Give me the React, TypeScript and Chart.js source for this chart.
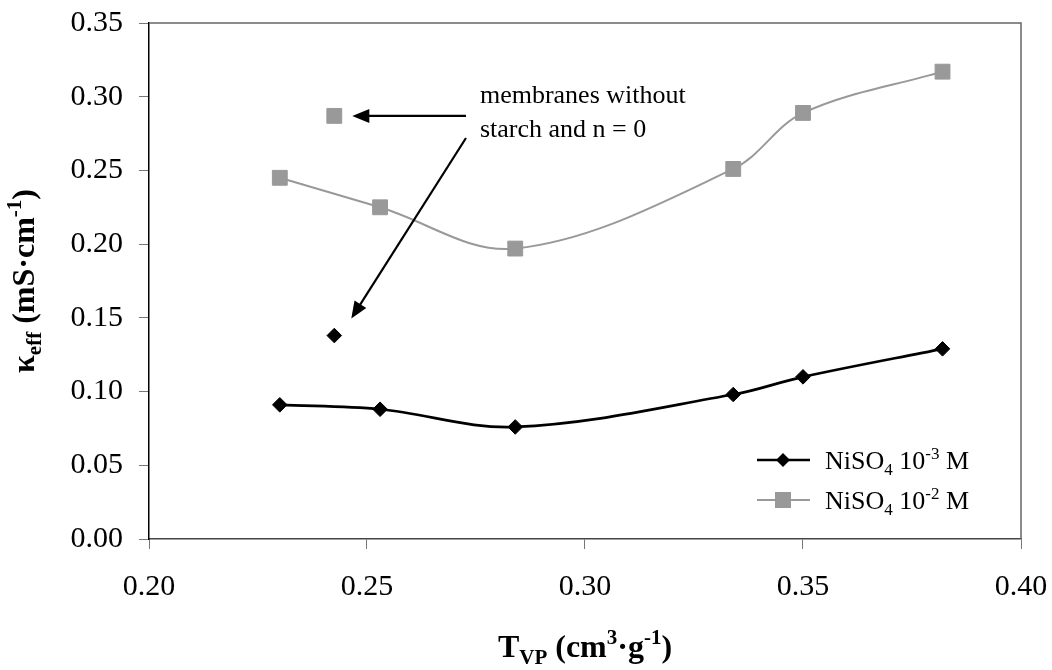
import React, { useEffect, useRef } from 'react';
import { Chart, registerables } from 'chart.js';

Chart.register(...registerables);

// ---- data ----
const tvp = [0.23, 0.253, 0.284, 0.334, 0.35, 0.382];
const kappaNi3 = [0.091, 0.088, 0.076, 0.098, 0.11, 0.129];
const kappaNi2 = [0.245, 0.225, 0.197, 0.251, 0.289, 0.317];
const noStarchTvp = [0.2425];
const noStarchNi3 = [0.138];
const noStarchNi2 = [0.287];
const xTickValues = [0.2, 0.25, 0.3, 0.35, 0.4];
const yTickValues = [0, 0.05, 0.1, 0.15, 0.2, 0.25, 0.3, 0.35];
const noteLines = ['membranes without', 'starch and n = 0'];

type Part = { t: string; k?: 'sub' | 'sup' };
const legendNi3: Part[] = [{ t: 'NiSO' }, { t: '4', k: 'sub' }, { t: ' 10' }, { t: '-3', k: 'sup' }, { t: ' M' }];
const legendNi2: Part[] = [{ t: 'NiSO' }, { t: '4', k: 'sub' }, { t: ' 10' }, { t: '-2', k: 'sup' }, { t: ' M' }];
const xTitle: Part[] = [{ t: 'T' }, { t: 'VP', k: 'sub' }, { t: ' (cm' }, { t: '3', k: 'sup' }, { t: '·g' }, { t: '-1', k: 'sup' }, { t: ')' }];
const yTitle: Part[] = [{ t: 'κ' }, { t: 'eff', k: 'sub' }, { t: ' (mS·cm' }, { t: '-1', k: 'sup' }, { t: ')' }];

const FONT = '"Liberation Serif", "Times New Roman", serif';
const BLACK = '#000000';
const GRAY = '#999999';

function fontFor(size: number, weight: string, small: boolean) {
  const s = small ? Math.round(size * 0.65) : size;
  return `${weight} ${s}px ${FONT}`;
}

function richWidth(ctx: CanvasRenderingContext2D, parts: Part[], size: number, weight: string) {
  let w = 0;
  for (const p of parts) {
    ctx.font = fontFor(size, weight, !!p.k);
    w += ctx.measureText(p.t).width;
  }
  return w;
}

function drawRich(
  ctx: CanvasRenderingContext2D,
  parts: Part[],
  x: number,
  y: number,
  size: number,
  weight: string,
  align: 'left' | 'center'
) {
  const w = richWidth(ctx, parts, size, weight);
  let cx = align === 'center' ? x - w / 2 : x;
  ctx.textBaseline = 'alphabetic';
  ctx.textAlign = 'left';
  for (const p of parts) {
    ctx.font = fontFor(size, weight, !!p.k);
    const dy = p.k === 'sub' ? size * 0.22 : p.k === 'sup' ? -size * 0.4 : 0;
    ctx.fillText(p.t, cx, y + dy);
    cx += ctx.measureText(p.t).width;
  }
}

function arrow(ctx: CanvasRenderingContext2D, x0: number, y0: number, x1: number, y1: number) {
  const ang = Math.atan2(y1 - y0, x1 - x0);
  const hl = 17;
  const hw = 7;
  const bx = x1 - Math.cos(ang) * hl;
  const by = y1 - Math.sin(ang) * hl;
  ctx.beginPath();
  ctx.moveTo(x0, y0);
  ctx.lineTo(bx + Math.cos(ang) * 2, by + Math.sin(ang) * 2);
  ctx.lineWidth = 2.2;
  ctx.strokeStyle = BLACK;
  ctx.stroke();
  ctx.beginPath();
  ctx.moveTo(x1, y1);
  ctx.lineTo(bx + Math.cos(ang + Math.PI / 2) * hw, by + Math.sin(ang + Math.PI / 2) * hw);
  ctx.lineTo(bx - Math.cos(ang + Math.PI / 2) * hw, by - Math.sin(ang + Math.PI / 2) * hw);
  ctx.closePath();
  ctx.fillStyle = BLACK;
  ctx.fill();
}

const decorPlugin = {
  id: 'decor',
  afterDraw(chart: any) {
    const ctx: CanvasRenderingContext2D = chart.ctx;
    const { left, right, top, bottom } = chart.chartArea;
    const xs = chart.scales.x;
    const ys = chart.scales.y;
    ctx.save();

    // frame: top & right
    ctx.strokeStyle = '#666666';
    ctx.lineWidth = 1.5;
    ctx.beginPath();
    ctx.moveTo(left, top);
    ctx.lineTo(right, top);
    ctx.lineTo(right, bottom);
    ctx.stroke();

    // annotation text
    ctx.fillStyle = BLACK;
    ctx.font = `26px ${FONT}`;
    ctx.textAlign = 'left';
    ctx.textBaseline = 'alphabetic';
    const tx = xs.getPixelForValue(0.2759);
    ctx.fillText(noteLines[0], tx, ys.getPixelForValue(0.2958));
    ctx.fillText(noteLines[1], tx, ys.getPixelForValue(0.2727));

    // arrows
    const sx = xs.getPixelForValue(0.2727);
    const p2x = xs.getPixelForValue(noStarchTvp[0]);
    const p2y = ys.getPixelForValue(noStarchNi2[0]);
    const p3y = ys.getPixelForValue(noStarchNi3[0]);
    arrow(ctx, sx, p2y, p2x + 18, p2y);
    arrow(ctx, sx, ys.getPixelForValue(0.272), p2x + 17, p3y - 17);

    // legend
    const lx0 = right - 264;
    const lx1 = right - 211;
    const mx = right - 238;
    const txl = right - 196;
    const r1 = bottom - 79;
    const r2 = bottom - 39;
    ctx.lineWidth = 2.5;
    ctx.strokeStyle = BLACK;
    ctx.beginPath();
    ctx.moveTo(lx0, r1);
    ctx.lineTo(lx1, r1);
    ctx.stroke();
    ctx.fillStyle = BLACK;
    ctx.beginPath();
    ctx.moveTo(mx - 7, r1);
    ctx.lineTo(mx, r1 - 7);
    ctx.lineTo(mx + 7, r1);
    ctx.lineTo(mx, r1 + 7);
    ctx.closePath();
    ctx.fill();
    ctx.lineWidth = 2;
    ctx.strokeStyle = GRAY;
    ctx.beginPath();
    ctx.moveTo(lx0, r2);
    ctx.lineTo(lx1, r2);
    ctx.stroke();
    ctx.fillStyle = GRAY;
    ctx.fillRect(mx - 8, r2 - 8, 16, 16);
    ctx.fillStyle = BLACK;
    drawRich(ctx, legendNi3, txl, r1 + 9, 26, 'normal', 'left');
    drawRich(ctx, legendNi2, txl, r2 + 9, 26, 'normal', 'left');

    // axis titles
    drawRich(ctx, xTitle, (left + right) / 2, 657, 32, 'bold', 'center');
    ctx.save();
    ctx.translate(34, (top + bottom) / 2);
    ctx.rotate(-Math.PI / 2);
    drawRich(ctx, yTitle, 0, 0, 32, 'bold', 'center');
    ctx.restore();

    ctx.restore();
  },
};

export default function App() {
  const ref = useRef<HTMLCanvasElement | null>(null);

  useEffect(() => {
    document.body.style.margin = '0';
    const canvas = ref.current;
    if (!canvas) return;
    const chart = new Chart(canvas, {
      type: 'scatter',
      data: {
        datasets: [
          {
            label: 'NiSO4 10-2 M',
            data: tvp.map((x, i) => ({ x, y: kappaNi2[i] })),
            showLine: true,
            borderColor: GRAY,
            borderWidth: 2,
            tension: 0.35,
            pointStyle: 'rect',
            pointRadius: 10.5,
            pointBackgroundColor: GRAY,
            pointBorderColor: GRAY,
            pointBorderWidth: 1,
          },
          {
            label: 'NiSO4 10-3 M',
            data: tvp.map((x, i) => ({ x, y: kappaNi3[i] })),
            showLine: true,
            borderColor: BLACK,
            borderWidth: 2.7,
            tension: 0.35,
            pointStyle: 'rectRot',
            pointRadius: 7.3,
            pointBackgroundColor: BLACK,
            pointBorderColor: BLACK,
            pointBorderWidth: 1,
          },
          {
            label: 'no starch 10-2',
            data: noStarchTvp.map((x, i) => ({ x, y: noStarchNi2[i] })),
            showLine: false,
            pointStyle: 'rect',
            pointRadius: 10.5,
            pointBackgroundColor: GRAY,
            pointBorderColor: GRAY,
            pointBorderWidth: 1,
          },
          {
            label: 'no starch 10-3',
            data: noStarchTvp.map((x, i) => ({ x, y: noStarchNi3[i] })),
            showLine: false,
            pointStyle: 'rectRot',
            pointRadius: 7.3,
            pointBackgroundColor: BLACK,
            pointBorderColor: BLACK,
            pointBorderWidth: 1,
          },
        ],
      },
      options: {
        responsive: false,
        animation: false,
        layout: { padding: { left: 0, top: 23, right: 31, bottom: 0 } },
        plugins: { legend: { display: false }, tooltip: { enabled: false } },
        scales: {
          x: {
            type: 'linear',
            min: 0.2,
            max: 0.4,
            afterBuildTicks: (s: any) => {
              s.ticks = xTickValues.map((v) => ({ value: v }));
            },
            afterFit: (s: any) => {
              s.height = 131;
              s.paddingLeft = 0;
              s.paddingRight = 0;
            },
            ticks: {
              color: BLACK,
              font: { family: FONT, size: 30 },
              padding: 20,
              callback: (v: any) => Number(v).toFixed(2),
            },
            grid: { drawOnChartArea: false, drawTicks: true, tickLength: 10, color: '#777777' },
            border: { display: true, color: '#444444', width: 1.5 },
          },
          y: {
            type: 'linear',
            min: 0,
            max: 0.35,
            afterBuildTicks: (s: any) => {
              s.ticks = yTickValues.map((v) => ({ value: v }));
            },
            afterFit: (s: any) => {
              s.width = 149;
              s.paddingTop = 0;
              s.paddingBottom = 0;
            },
            ticks: {
              color: BLACK,
              font: { family: FONT, size: 30 },
              padding: 16,
              callback: (v: any) => Number(v).toFixed(2),
            },
            grid: { drawOnChartArea: false, drawTicks: true, tickLength: 10, color: '#777777' },
            border: { display: true, color: BLACK, width: 1.5 },
          },
        },
      },
      plugins: [decorPlugin],
    });
    return () => chart.destroy();
  }, []);

  return <canvas ref={ref} width={1052} height={670} style={{ display: 'block' }} />;
}
